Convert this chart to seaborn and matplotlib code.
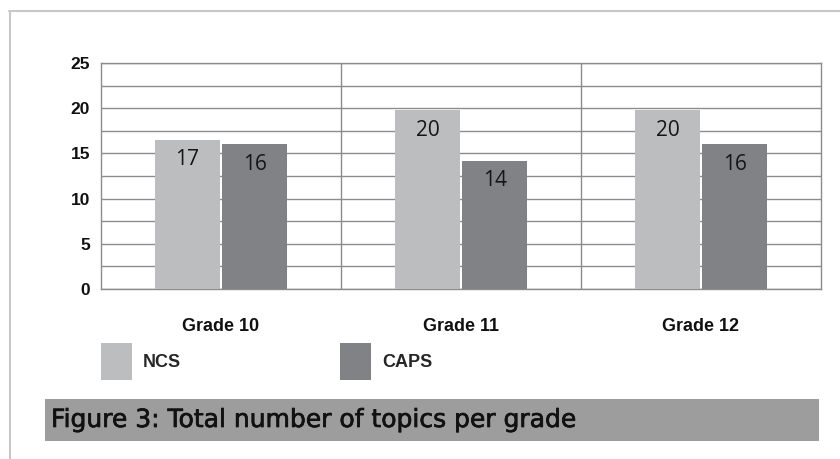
import matplotlib
matplotlib.use("Agg")
import matplotlib.pyplot as plt
import matplotlib.patheffects as pe
import seaborn as sns
import pandas as pd
from matplotlib.patches import Rectangle
from matplotlib.lines import Line2D
from matplotlib.ticker import MultipleLocator

# ---- data ----
grades = ["Grade 10", "Grade 11", "Grade 12"]
series = ["NCS", "CAPS"]
ncs_values = [16.5, 19.8, 19.8]
caps_values = [16.0, 14.2, 16.0]
ncs_labels = ["17", "20", "20"]
caps_labels = ["16", "14", "16"]
y_ticks = [0, 5, 10, 15, 20, 25]
caption = "Figure 3: Total number of topics per grade"

colors = {"NCS": "#bcbdbf", "CAPS": "#818285"}
grid_col = "#8c8c8c"

df = pd.DataFrame({
    "grade": grades * 2,
    "series": ["NCS"] * len(grades) + ["CAPS"] * len(grades),
    "value": ncs_values + caps_values,
})

sns.set_theme(style="white")
plt.rcParams["font.family"] = ["Liberation Sans", "DejaVu Sans"]

fig = plt.figure(figsize=(8.4, 4.59), dpi=100)
W, H = 840, 459
ax = fig.add_axes([101 / W, 1 - 289 / H, (821 - 101) / W, (289 - 63) / H])

sns.barplot(data=df, x="grade", y="value", hue="series", order=grades,
            hue_order=series, palette=colors, width=0.56, gap=0.041,
            saturation=1, linewidth=0, edgecolor="none",
            ax=ax, legend=True, zorder=3)

ax.set_xlim(-0.5, 2.5)
ax.set_ylim(0, 25)
ax.set_yticks(y_ticks)
ax.yaxis.set_minor_locator(MultipleLocator(2.5))
ax.set_xlabel("")
ax.set_ylabel("")

ax.grid(False)
ax.set_axisbelow(True)
ax.yaxis.grid(True, which="both", color=grid_col, lw=1.0, zorder=0)
for xv in [0.5, 1.5]:
    ax.axvline(xv, color=grid_col, lw=1.0, zorder=0)
for sp in ax.spines.values():
    sp.set_visible(True)
    sp.set_color(grid_col)
    sp.set_linewidth(1.0)

ax.tick_params(axis="both", which="both", length=0)
ax.tick_params(axis="y", pad=8)
ax.tick_params(axis="x", pad=21)
for lbl in ax.get_yticklabels():
    lbl.set_fontweight("bold")
    lbl.set_fontsize(12.5)
    lbl.set_color("#111111")
for lbl in ax.get_xticklabels():
    lbl.set_fontweight("bold")
    lbl.set_fontsize(13)
    lbl.set_color("#111111")

# value labels inside bars
for cont, labs in zip(ax.containers, [ncs_labels, caps_labels]):
    ax.bar_label(cont, labels=labs, padding=-22, fontsize=15,
                 color="#151515", family=["Open Sans", "DejaVu Sans"])

# legend
handles, labels = ax.get_legend_handles_labels()
ax.legend(handles, labels, loc="upper left",
          bbox_to_anchor=(101 / W, 1 - 343 / H), bbox_transform=fig.transFigure,
          ncol=2, frameon=False, borderpad=0, borderaxespad=0,
          handlelength=1.72, handleheight=2.8, handletextpad=0.6,
          columnspacing=8.8, prop={"weight": "bold", "size": 13})

# outer frame lines
fig.add_artist(Line2D([9 / W, 1.0], [1 - 11 / H, 1 - 11 / H],
                      transform=fig.transFigure, color="#c8c8c8", lw=1.5))
fig.add_artist(Line2D([9.5 / W, 9.5 / W], [1 - 11 / H, 0.0],
                      transform=fig.transFigure, color="#c8c8c8", lw=1.5))

# caption band
fig.add_artist(Rectangle((45 / W, 1 - 441 / H), (819 - 45) / W, 42 / H,
                         transform=fig.transFigure, facecolor="#9e9d9e",
                         edgecolor="none"))
fig.text(51 / W, 1 - 420 / H, caption, ha="left", va="center",
         fontsize=18, color="#111111", family=["DejaVu Sans"],
         path_effects=[pe.withStroke(linewidth=0.5, foreground="#111111")])

fig.savefig("out.png", dpi=100)
